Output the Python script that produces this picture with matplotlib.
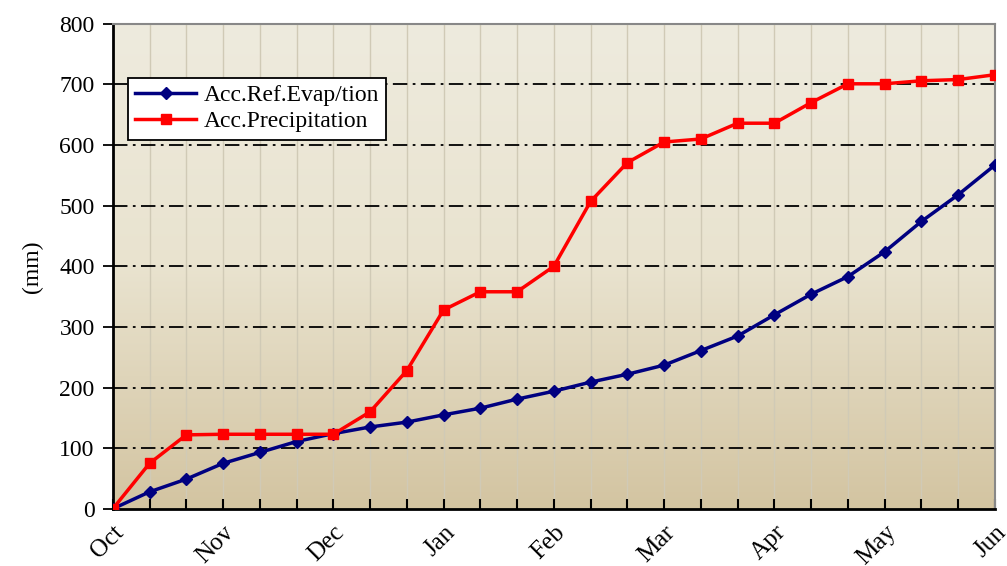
import matplotlib
matplotlib.use("Agg")
import matplotlib.pyplot as plt
import numpy as np
from matplotlib.colors import LinearSegmentedColormap

months = ["Oct", "Nov", "Dec", "Jan", "Feb", "Mar", "Apr", "May", "Jun"]
evap = [0, 28, 49, 75, 93, 111, 124, 135, 143, 155, 166, 181, 194, 209, 222,
        237, 261, 285, 320, 354, 383, 424, 474, 518, 567]
precip = [0, 75, 122, 123, 123, 123, 123, 160, 228, 328, 358, 358, 400, 507,
          571, 605, 610, 636, 636, 670, 701, 701, 706, 708, 716]
yticks = [0, 100, 200, 300, 400, 500, 600, 700, 800]

plt.rcParams['font.family'] = ['Liberation Serif', 'DejaVu Serif']

fig = plt.figure(figsize=(10.07, 5.66), dpi=100)
ax = fig.add_axes([0.112, 0.101, 0.876, 0.857])

x = np.arange(len(evap))
n = len(evap) - 1

# gradient background
cmap = LinearSegmentedColormap.from_list("bg", ["#D3C4A1", "#E9E3CF", "#EEEBDE"])
grad = np.linspace(0, 1, 256).reshape(-1, 1)
ax.imshow(grad, cmap=cmap, aspect='auto', origin='lower',
          extent=[0, n, 0, 800], zorder=0)

# grid
for xi in x[1:-1]:
    ax.axvline(xi, color="#D0CAB6", lw=1.0, zorder=1)
for yv in yticks[1:-1]:
    ax.axhline(yv, color="black", lw=1.3, ls=(0, (8, 3, 1.5, 3)), zorder=1)

ax.plot(x, evap, color="#000080", lw=2.5, marker='D', ms=6.5,
        label="Acc.Ref.Evap/tion", zorder=3)
ax.plot(x, precip, color="#FF0000", lw=2.5, marker='s', ms=7,
        label="Acc.Precipitation", zorder=4)

ax.set_xlim(0, n)
ax.set_ylim(0, 800)
ax.set_yticks(yticks)
ax.set_yticklabels([str(v) for v in yticks], fontsize=17)
ax.set_xticks(np.arange(0, n + 1, 3))
ax.set_xticklabels(months, rotation=45, ha='right', va='top', fontsize=18,
                   rotation_mode='anchor')
ax.set_xticks(x, minor=True)
ax.tick_params(axis='x', which='both', direction='in', length=7, width=1.5, pad=9)
ax.tick_params(axis='y', direction='out', length=7, width=1.3, pad=6)
ax.set_ylabel("(mm)", fontsize=17, labelpad=12)

for s in ["left", "bottom"]:
    ax.spines[s].set_linewidth(2)
    ax.spines[s].set_color("black")
for s in ["top", "right"]:
    ax.spines[s].set_linewidth(1.5)
    ax.spines[s].set_color("#888888")

leg = ax.legend(loc='upper left', bbox_to_anchor=(0.017, 0.889), borderaxespad=0,
                fontsize=17, fancybox=False, edgecolor='black', framealpha=1,
                handlelength=2.6, handletextpad=0.3, borderpad=0.3, labelspacing=0.2)
leg.get_frame().set_linewidth(1.3)

fig.savefig("out.png", dpi=100)
